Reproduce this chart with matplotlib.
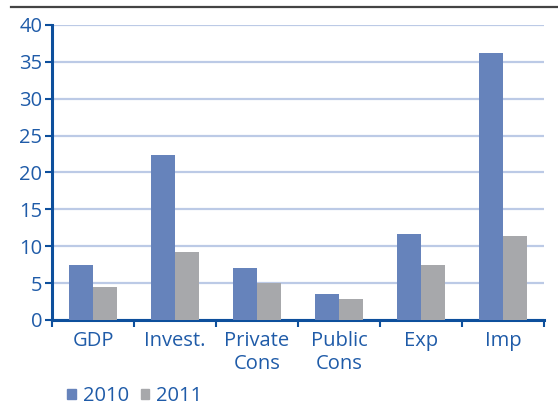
import numpy as np
import matplotlib
matplotlib.use("Agg")
import matplotlib.pyplot as plt
from matplotlib.lines import Line2D
from matplotlib.patches import Patch

categories = ["GDP", "Invest.", "Private\nCons", "Public\nCons", "Exp", "Imp"]
vals_2010 = [7.5, 22.3, 7.1, 3.5, 11.6, 36.2]
vals_2011 = [4.4, 9.2, 5.0, 2.8, 7.5, 11.4]
series_names = ["2010", "2011"]

blue = "#6683bb"
grey = "#a7a8ab"
txt = "#1f5ba8"
axis_col = "#0d4f9c"
grid_col = "#bccae6"

plt.rcParams["font.family"] = ["Open Sans", "DejaVu Sans"]

fig = plt.figure(figsize=(5.58, 4.07), dpi=100)
ax = fig.add_axes([0.0932, 0.214, 0.8818, 0.7246])

x = np.arange(len(categories))
w = 0.29
ax.bar(x - w / 2, vals_2010, width=w, color=blue, zorder=3)
ax.bar(x + w / 2, vals_2011, width=w, color=grey, zorder=3)

ax.set_xlim(-0.5, len(categories) - 0.5)
ax.set_ylim(0, 40)
ax.set_yticks(range(0, 41, 5))
ax.yaxis.grid(True, color=grid_col, linewidth=1.6, zorder=0)
ax.set_axisbelow(True)

ax.set_xticks(x)
ax.set_xticklabels(categories, linespacing=1.2)
ax.set_xticks(np.arange(-0.5, len(categories)), minor=True)
ax.tick_params(axis="x", which="major", length=0, pad=8, labelsize=14.5, labelcolor=txt)
ax.tick_params(axis="x", which="minor", length=5, width=1.5, color=axis_col, direction="out")
ax.tick_params(axis="y", length=5, width=1.5, color=axis_col, labelsize=14.5, labelcolor=txt, pad=2)

for s in ["top", "right"]:
    ax.spines[s].set_visible(False)
for s in ["left", "bottom"]:
    ax.spines[s].set_color(axis_col)
    ax.spines[s].set_linewidth(2.2)

# rule across the top
fig.add_artist(Line2D([11 / 558, 1.0], [1 - 7 / 407, 1 - 7 / 407], color="#444444", linewidth=1.6))

handles = [Patch(color=blue), Patch(color=grey)]
leg = fig.legend(handles, series_names, loc="lower left", bbox_to_anchor=(0.088, -0.043),
                 ncol=2, frameon=False, handlelength=0.42, handleheight=0.42,
                 handletextpad=0.35, columnspacing=0.6, fontsize=14.5)
for t in leg.get_texts():
    t.set_color(txt)

fig.savefig("out.png", dpi=100)
